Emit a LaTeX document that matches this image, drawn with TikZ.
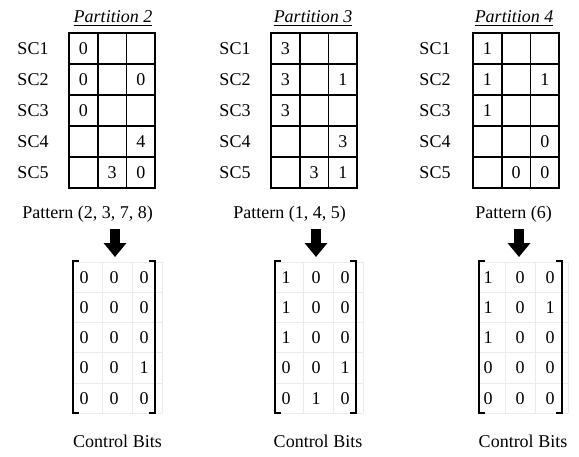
\documentclass[tikz,border=0pt]{standalone}
\usepackage{fontspec}
\setmainfont{Liberation Serif}
\usetikzlibrary{arrows.meta}
\newcommand\fs{\fontsize{18}{20}\selectfont}
\tikzset{
  cell/.style={draw, line width=1.6pt, minimum width=28.7pt, minimum height=31pt, inner sep=0pt, font=\fs},
  lab/.style={inner sep=0pt, font=\fs},
  basetext/.style={inner sep=0pt, anchor=base, font=\fs},
  title/.style={basetext, font=\fs\itshape},
  uline/.style={line width=1.1pt},
  digit/.style={inner sep=0pt, anchor=base, font=\fs},
  faint/.style={draw=black!8, line width=0.7pt},
  bracket/.style={line width=1.5pt},
  bigarrow/.style={line width=10pt, -{Triangle[width=22pt,length=14pt]}},
}
% one partition table: #1 id, #2 left edge, #3 label centre, #4 rows r/a/b/c
\newcommand\parttable[4]{%
  \foreach \r/\a/\b/\cc in {#4} {
    \node[lab] (sc#1-\r) at (#3,{33+(\r-0.5)*31}) {SC\r};
    \node[cell] (t#1-\r-1) at ({#2+0.5*28.7},{33+(\r-0.5)*31}) {\a};
    \node[cell] (t#1-\r-2) at ({#2+1.5*28.7},{33+(\r-0.5)*31}) {\b};
    \node[cell] (t#1-\r-3) at ({#2+2.5*28.7},{33+(\r-0.5)*31}) {\cc};
  }%
}
% control-bit matrix: #1 id, #2 left bracket, #3 right bracket, #4 grid right edge,
% #5 inner grid lines, #6/#7/#8 column centres, #9 rows r/a/b/c
\newcommand\ctrlmatrix[9]{%
  \foreach \y in {262,292,322,352,383,413} \draw[faint] (#2,\y) -- (#4,\y);
  \foreach \x in {#5,#4} \draw[faint] (\x,262) -- (\x,413);
  \draw[bracket] ({#2+6},261) -- (#2,261) -- (#2,413) -- ({#2+6},413);
  \draw[bracket] ({#3-6},261) -- (#3,261) -- (#3,413) -- ({#3-6},413);
  \foreach \r/\a/\b/\cc in {#9} {
    \node[digit] (m#1-\r-1) at (#6,{283+(\r-1)*30.25}) {\a};
    \node[digit] (m#1-\r-2) at (#7,{283+(\r-1)*30.25}) {\b};
    \node[digit] (m#1-\r-3) at (#8,{283+(\r-1)*30.25}) {\cc};
  }%
}
\begin{document}
\begin{tikzpicture}[x=1pt, y=-1pt]
\useasboundingbox (0,0) rectangle (579,456);

% titles
\node[title] (title2) at (113,22) {Partition 2};
\node[title] (title3) at (313,22) {Partition 3};
\node[title] (title4) at (514,22) {Partition 4};
\foreach \t in {title2,title3,title4}
  \draw[uline] ([yshift=-3.6pt]\t.base west) -- ([yshift=-3.6pt]\t.base east);

% partition tables
\parttable{2}{69}{33}{1/0/{}/{}, 2/0/{}/0, 3/0/{}/{}, 4/{}/{}/4, 5/{}/3/0}
\parttable{3}{271}{235}{1/3/{}/{}, 2/3/{}/1, 3/3/{}/{}, 4/{}/{}/3, 5/{}/3/1}
\parttable{4}{473}{435}{1/1/{}/{}, 2/1/{}/1, 3/1/{}/{}, 4/{}/{}/0, 5/{}/0/0}

% patterns
\node[basetext] (pat2) at (87.5,218) {Pattern (2, 3, 7, 8)};
\node[basetext] (pat3) at (289.5,218) {Pattern (1, 4, 5)};
\node[basetext] (pat4) at (513.5,218) {Pattern (6)};

% arrows down to the control bits
\coordinate (a2s) at (115,229);  \coordinate (a2e) at (115,257);
\coordinate (a3s) at (316,229);  \coordinate (a3e) at (316,257);
\coordinate (a4s) at (519,229);  \coordinate (a4e) at (519,257);
\draw[bigarrow] (a2s) -- (a2e);
\draw[bigarrow] (a3s) -- (a3e);
\draw[bigarrow] (a4s) -- (a4e);

% control-bit matrices
\ctrlmatrix{2}{73}{155}{162}{102,132}{84}{114}{144}{1/0/0/0, 2/0/0/0, 3/0/0/0, 4/0/0/1, 5/0/0/0}
\ctrlmatrix{3}{275}{356}{363}{303,333}{286}{316}{345}{1/1/0/0, 2/1/0/0, 3/1/0/0, 4/0/0/1, 5/0/1/0}
\ctrlmatrix{4}{479}{562}{568}{505,535}{488}{520}{550}{1/1/0/0, 2/1/0/1, 3/1/0/0, 4/0/0/0, 5/0/0/0}

% captions
\node[basetext] (cb2) at (117.5,447) {Control Bits};
\node[basetext] (cb3) at (318,447) {Control Bits};
\node[basetext] (cb4) at (523,447) {Control Bits};
\end{tikzpicture}
\end{document}
